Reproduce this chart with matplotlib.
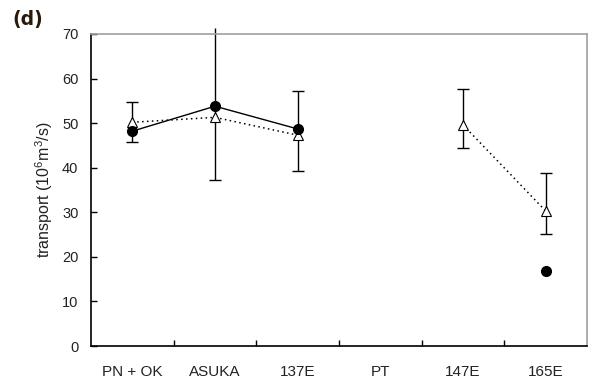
import numpy as np
import matplotlib
matplotlib.use('Agg')
import matplotlib.pyplot as plt

plt.rcParams['font.family'] = ['Liberation Sans', 'DejaVu Sans']
plt.rcParams['mathtext.fontset'] = 'custom'
plt.rcParams['mathtext.rm'] = 'Liberation Sans'

sections = ['PN + OK', 'ASUKA', '137E', 'PT', '147E', '165E']
filled = [48.2, 53.8, 48.7, np.nan, np.nan, 16.8]
triangle = [50.2, 51.3, 47.3, np.nan, 49.6, 30.3]
err_lo = [45.8, 37.2, 39.3, np.nan, 44.4, 25.2]
err_hi = [54.8, 71.3, 57.3, np.nan, 57.7, 38.9]

x = np.arange(len(sections))
lo = np.array(err_lo)
hi = np.array(err_hi)
mid = (lo + hi) / 2

fig = plt.figure(figsize=(5.92, 3.85), dpi=100)
ax = fig.add_axes([91/592, 1-346/385, 496/592, 312/385])

ax.errorbar(x, mid, yerr=[mid-lo, hi-mid], fmt='none', ecolor='black',
            elinewidth=1.0, capsize=4, capthick=1.0, zorder=2)
# ASUKA bar runs a little past the top of the frame
ax.vlines(x[1], 70, hi[1], color='black', lw=1.0, clip_on=False, zorder=2)

ax.plot(x, triangle, linestyle=(0, (1, 2.2)), color='black', lw=1.1,
        marker='^', markersize=6.5, markerfacecolor='white',
        markeredgecolor='black', markeredgewidth=0.8, zorder=3)
ax.plot(x, filled, '-', color='black', lw=1.0, marker='o', markersize=7,
        markerfacecolor='black', zorder=4)

ax.set_xlim(-0.5, 5.5)
ax.set_ylim(0, 70)
ax.set_yticks(range(0, 71, 10))
ax.set_xticks(x)
ax.set_xticklabels(sections)
ax.set_xticks(x[:-1] + 0.5, minor=True)
ax.tick_params(axis='x', which='major', length=0, pad=14, labelsize=11,
               colors='#222222')
ax.tick_params(axis='x', which='minor', direction='in', length=4, width=1)
ax.tick_params(axis='y', direction='in', length=4, width=1, pad=9,
               labelsize=10.5, colors='#222222')
ax.tick_params(axis='y', color='black')

ax.spines['left'].set_color('black')
ax.spines['bottom'].set_color('black')
ax.spines['top'].set_color('#a0a0a0')
ax.spines['right'].set_color('#a0a0a0')
for s in ax.spines.values():
    s.set_linewidth(1.2)

ax.set_ylabel(r'transport (10$^6$m$^3$/s)', fontsize=11.5, color='#222222',
              labelpad=5)
fig.text(12/592, 1-19/385, '(d)', fontsize=13.5, color='#2a1a0a',
         fontfamily='DejaVu Sans', fontweight='bold',
         va='center', ha='left')

fig.savefig('out.png', dpi=100)
